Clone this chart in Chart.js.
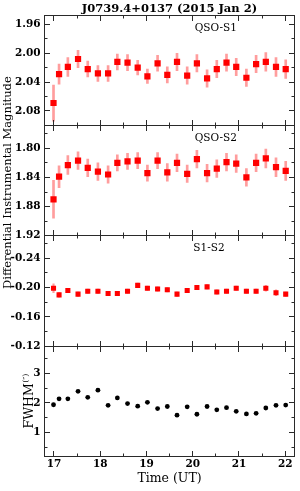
<!DOCTYPE html>
<html><head><meta charset="utf-8">
<script src="https://cdn.jsdelivr.net/npm/chart.js@4"></script>
<style>html,body{margin:0;padding:0;background:#fff}canvas{display:block}</style>
</head><body>
<canvas id="c" width="300" height="491"></canvas>
<script>
// ---- data ----
const times = [16.99, 17.11, 17.30, 17.52, 17.73, 17.95, 18.17, 18.37, 18.59, 18.81, 19.02, 19.24, 19.45,
               19.66, 19.88, 20.09, 20.31, 20.52, 20.73, 20.94, 21.16, 21.37, 21.58, 21.80, 22.01];
const qsoS1 = [2.069, 2.029, 2.019, 2.008, 2.022, 2.028, 2.028, 2.012, 2.013, 2.020, 2.032, 2.014, 2.030,
               2.012, 2.031, 2.014, 2.035, 2.022, 2.013, 2.019, 2.034, 2.015, 2.012, 2.019, 2.022];
const qsoS1Err = [0.025, 0.014, 0.013, 0.012, 0.011, 0.011, 0.011, 0.011, 0.011, 0.010, 0.010, 0.011, 0.011,
                  0.012, 0.012, 0.012, 0.012, 0.012, 0.012, 0.012, 0.012, 0.012, 0.013, 0.013, 0.013];
const qsoS2 = [1.870, 1.839, 1.823, 1.817, 1.827, 1.832, 1.836, 1.820, 1.818, 1.817, 1.834, 1.817, 1.833,
               1.820, 1.835, 1.815, 1.834, 1.828, 1.819, 1.821, 1.840, 1.820, 1.814, 1.826, 1.831];
const qsoS2Err = [0.026, 0.015, 0.013, 0.012, 0.012, 0.012, 0.012, 0.011, 0.011, 0.011, 0.011, 0.011, 0.012,
                  0.012, 0.012, 0.012, 0.012, 0.012, 0.012, 0.012, 0.012, 0.012, 0.013, 0.013, 0.013];
const s1s2 = [-0.199, -0.190, -0.196, -0.191, -0.195, -0.195, -0.192, -0.192, -0.195, -0.203, -0.199, -0.198, -0.197,
              -0.191, -0.196, -0.200, -0.201, -0.194, -0.195, -0.199, -0.195, -0.195, -0.199, -0.193, -0.191];
const s1s2Err = [0.006, 0.003, 0.003, 0.003, 0.003, 0.003, 0.003, 0.003, 0.003, 0.003, 0.003, 0.003, 0.003,
                 0.003, 0.003, 0.003, 0.003, 0.003, 0.003, 0.003, 0.003, 0.003, 0.004, 0.004, 0.003];
const fwhm = [1.94, 2.14, 2.14, 2.39, 2.19, 2.43, 1.92, 2.17, 1.98, 1.89, 2.02, 1.81, 1.88,
              1.59, 1.87, 1.62, 1.88, 1.77, 1.84, 1.72, 1.63, 1.65, 1.83, 1.92, 1.93];
const timeTicks = [17, 18, 19, 20, 21, 22];
const s1Ticks = [1.96, 2.00, 2.04, 2.08];
const s2Ticks = [1.80, 1.84, 1.88, 1.92];
const diffTicks = [-0.24, -0.20, -0.16, -0.12];
const fwhmTicks = [1, 2, 3];
const panelNames = ['QSO-S1', 'QSO-S2', 'S1-S2'];
const titleText = 'J0739.4+0137 (2015 Jan 2)';
const yTitle = 'Differential Instrumental Magnitude';
const xTitle = 'Time (UT)';

// ---- chart ----
const FONT = 'DejaVu Serif';
Chart.defaults.font.family = FONT;
Chart.defaults.color = '#000';
const ERR = 'rgba(255,60,60,0.5)';
const RED = '#ff0000';

const errData = (v, e) => times.map((t, i) => ({x: t, y: [v[i] - e[i], v[i] + e[i]]}));
const ptData = v => times.map((t, i) => ({x: t, y: v[i]}));

function yScale(min, max, reverse, ticks, dec) {
  return {
    type: 'linear', position: 'left', stack: 'panels', stackWeight: 1,
    min, max, reverse,
    grid: {display: false, drawTicks: false}, border: {display: false},
    afterBuildTicks: s => { s.ticks = ticks.map(v => ({value: v})); },
    afterFit: s => { s.width = 44.5; },
    ticks: {autoSkip: false, padding: 4, font: {size: 10.5, weight: 'bold'}, callback: v => v.toFixed(dec)}
  };
}

const panelIds = ['y1', 'y2', 'y3', 'y4'];

const framePlugin = {
  id: 'frames',
  afterDatasetsDraw(chart) {
    const ctx = chart.ctx, xs = chart.scales.x, a = chart.chartArea;
    const r5 = v => Math.round(v - 0.5) + 0.5;
    const L = r5(a.left), R = r5(a.right);
    ctx.save();
    ctx.strokeStyle = '#2a2a2a';
    ctx.lineWidth = 1;
    panelIds.forEach(id => {
      const s = chart.scales[id];
      const T = r5(s.top), B = r5(s.bottom);
      ctx.strokeRect(L, T, R - L, B - T);
      ctx.beginPath();
      const maj = s.ticks.map(t => t.value);
      const step = maj[1] - maj[0];
      const lo = Math.min(s.min, s.max), hi = Math.max(s.min, s.max);
      for (let k = -20; k < 60; k++) {
        const v = maj[0] + k * step / 2;
        if (v < lo - 1e-9 || v > hi + 1e-9) continue;
        const len = (k % 2 === 0) ? 5.5 : 3;
        const p = r5(s.getPixelForValue(v));
        ctx.moveTo(L, p); ctx.lineTo(L + len, p);
        ctx.moveTo(R, p); ctx.lineTo(R - len, p);
      }
      for (let k = -4; k < 20; k++) {
        const v = timeTicks[0] + k * 0.5;
        if (v < xs.min || v > xs.max) continue;
        const len = (k % 2 === 0) ? 5.5 : 3;
        const p = r5(xs.getPixelForValue(v));
        ctx.moveTo(p, T); ctx.lineTo(p, T + len);
        ctx.moveTo(p, B); ctx.lineTo(p, B - len);
      }
      ctx.stroke();
    });
    ctx.fillStyle = '#000';
    ctx.font = '10.5px "' + FONT + '"';
    ctx.textAlign = 'center';
    ctx.textBaseline = 'middle';
    const nx = [20.5, 20.5, 20.35];
    panelNames.forEach((n, i) => {
      const s = chart.scales[panelIds[i]];
      ctx.fillText(n, xs.getPixelForValue(nx[i]), s.top + 13);
    });
    const yc = (chart.scales.y1.top + chart.scales.y3.bottom) / 2 + 2;
    ctx.save();
    ctx.translate(8.5, yc);
    ctx.rotate(-Math.PI / 2);
    ctx.font = '11.5px "' + FONT + '"';
    ctx.fillText(yTitle, 0, 0);
    ctx.restore();
    const s4 = chart.scales.y4;
    ctx.save();
    ctx.translate(29.5, (s4.top + s4.bottom) / 2);
    ctx.rotate(-Math.PI / 2);
    ctx.font = '12.5px "' + FONT + '"';
    const w1 = ctx.measureText('FWHM').width;
    ctx.font = '8px "' + FONT + '"';
    const w2 = ctx.measureText('(\u2033)').width;
    const x0 = -(w1 + w2) / 2;
    ctx.textAlign = 'left';
    ctx.font = '12.5px "' + FONT + '"';
    ctx.fillText('FWHM', x0, 0);
    ctx.font = '8px "' + FONT + '"';
    ctx.fillText('(\u2033)', x0 + w1 + 0.5, -4);
    ctx.restore();
    ctx.restore();
  }
};

new Chart(document.getElementById('c'), {
  type: 'scatter',
  data: {
    datasets: [
      {type: 'bar', data: errData(qsoS1, qsoS1Err), yAxisID: 'y1', backgroundColor: ERR, barThickness: 2, grouped: false, order: 2},
      {type: 'scatter', data: ptData(qsoS1), yAxisID: 'y1', pointStyle: 'rect', pointRadius: 4.4, backgroundColor: RED, borderWidth: 0, order: 1},
      {type: 'bar', data: errData(qsoS2, qsoS2Err), yAxisID: 'y2', backgroundColor: ERR, barThickness: 2, grouped: false, order: 2},
      {type: 'scatter', data: ptData(qsoS2), yAxisID: 'y2', pointStyle: 'rect', pointRadius: 4.4, backgroundColor: RED, borderWidth: 0, order: 1},
      {type: 'bar', data: errData(s1s2, s1s2Err), yAxisID: 'y3', backgroundColor: ERR, barThickness: 1.5, grouped: false, order: 2},
      {type: 'scatter', data: ptData(s1s2), yAxisID: 'y3', pointStyle: 'rect', pointRadius: 3.6, backgroundColor: RED, borderWidth: 0, order: 1},
      {type: 'scatter', data: ptData(fwhm), yAxisID: 'y4', pointStyle: 'circle', pointRadius: 2.4, backgroundColor: '#000', borderWidth: 0, order: 1}
    ]
  },
  options: {
    responsive: false,
    devicePixelRatio: 1,
    animation: false,
    events: [],
    layout: {padding: {left: 0, right: 5.5, top: 0, bottom: 0}},
    plugins: {
      legend: {display: false},
      tooltip: {enabled: false},
      title: {display: true, fullSize: false, text: titleText, color: '#000',
              font: {size: 11.5, weight: 'bold', lineHeight: 1}, padding: {top: 3.5, bottom: 0}}
    },
    scales: {
      x: {
        type: 'linear', position: 'bottom', min: 16.795, max: 22.2, offset: false,
        grid: {display: false, drawTicks: false}, border: {display: false},
        afterBuildTicks: s => { s.ticks = timeTicks.map(v => ({value: v})); },
        afterFit: s => { s.height = 34.5; },
        ticks: {autoSkip: false, maxRotation: 0, padding: 1.5, font: {size: 10.5, weight: 'bold'}, callback: v => String(v)},
        title: {display: true, text: xTitle, color: '#000', font: {size: 12.5, lineHeight: 1.2}, padding: {top: 0, bottom: 5}}
      },
      y4: yScale(0.2, 3.91, false, fwhmTicks, 0),
      y3: yScale(-0.2708, -0.12, true, diffTicks, 2),
      y2: yScale(1.7686, 1.92, true, s2Ticks, 2),
      y1: yScale(1.947, 2.100, true, s1Ticks, 2)
    }
  },
  plugins: [framePlugin]
});
</script>
</body></html>
